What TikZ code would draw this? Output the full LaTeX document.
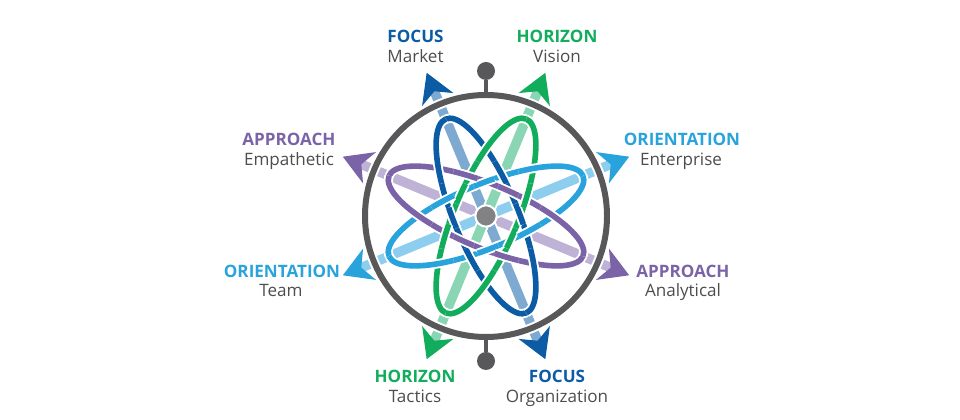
\documentclass[tikz,border=0pt]{standalone}
\usepackage{fontspec}
\setmainfont{Open Sans}
\usetikzlibrary{calc}
\definecolor{fdark}{HTML}{0B5CA5}
\definecolor{flight}{HTML}{7EAAD1}
\definecolor{hdark}{HTML}{12AD5C}
\definecolor{hlight}{HTML}{8AD5B3}
\definecolor{odark}{HTML}{29A3DC}
\definecolor{olight}{HTML}{8DCDEE}
\definecolor{adark}{HTML}{7B63A8}
\definecolor{alight}{HTML}{BEB2D6}
\definecolor{ringcol}{HTML}{58585A}
\definecolor{hubcol}{HTML}{828285}
\definecolor{subtxt}{HTML}{4D4D4F}
\begin{document}
\begin{tikzpicture}[x=0.75pt,y=0.75pt,
  lab/.style={anchor=base, inner sep=0pt, text=subtxt, font=\fontsize{12.8}{15}\selectfont},
  ttl/.style={anchor=base, inner sep=0pt, font=\fontsize{12.8}{15}\selectfont\bfseries},
  knob/.style={circle, fill=ringcol, inner sep=0pt, minimum size=13.5pt},
  stem/.style={ringcol, line width=2.4pt},
  casing/.style={white, line width=7pt},
  orbit/.style={line width=4.2pt},
]
\useasboundingbox (0,0) rectangle (960,420);
\coordinate (C) at (486,204);

% light shafts
\foreach \ang/\col in {157.5/alight, 22.5/olight, 112.5/flight, 67.5/hlight}{
  \begin{scope}[shift={(C)}, rotate=\ang]
    \draw[white, line width=10pt] (-142,0) -- (142,0);
    \draw[\col, line width=7.2pt] (-142,0) -- (142,0);
  \end{scope}
}

% orbits: under segments first
\foreach \ang/\col in {112.5/fdark, 67.5/hdark, 22.5/odark, 157.5/adark}{
  \foreach \ta/\tb in {61.9/79.4, 88.5/103.6, 115.1/181.5, 241.9/259.4, 268.5/283.6, 295.1/361.5}{
    \begin{scope}[shift={(C)}, rotate=\ang]
      \draw[casing] (\ta:105 and 32) arc[start angle=\ta, end angle=\tb, x radius=105, y radius=32];
      \draw[orbit, \col] (\ta:105 and 32) arc[start angle=\ta, end angle=\tb, x radius=105, y radius=32];
    \end{scope}
  }
}
% orbits: over segments
\foreach \ang/\col in {112.5/fdark, 67.5/hdark, 22.5/odark, 157.5/adark}{
  \foreach \ta/\tb in {0/63.36, 77.93/90, 102.07/116.64, 180/243.36, 257.93/270, 282.07/296.64}{
    \begin{scope}[shift={(C)}, rotate=\ang]
      \draw[casing] (\ta:105 and 32) arc[start angle=\ta, end angle=\tb, x radius=105, y radius=32];
      \draw[orbit, \col] (\ta:105 and 32) arc[start angle=\ta, end angle=\tb, x radius=105, y radius=32];
    \end{scope}
  }
}

% hub
\node[circle, fill=hubcol, draw=white, line width=1.5pt, inner sep=0pt, minimum size=16pt] (hub) at (C) {};

% ring
\draw[white, line width=7.5pt] (C) circle (121);
\draw[ringcol, line width=4.5pt] (C) circle (121);

% knobs
\coordinate (rtop) at (486,325);
\coordinate (rbot) at (486,83);
\node[knob] (ktop) at (486,349) {};
\node[knob] (kbot) at (486,59) {};
\draw[stem] (rtop) -- (ktop);
\draw[stem] (rbot) -- (kbot);

% arrowheads
\foreach \ang/\col in {112.5/fdark, 292.5/fdark, 67.5/hdark, 247.5/hdark, 22.5/odark, 202.5/odark, 157.5/adark, 337.5/adark}{
  \begin{scope}[shift={(C)}, rotate=\ang]
    \fill[\col] (155,0) -- (126,17) -- (135,0) -- (126,-17) -- cycle;
  \end{scope}
}

% labels
\node[ttl, text=fdark] (fmT) at (415.5,377) {FOCUS};
\node[lab] (fmS) at (415.5,357) {Market};
\node[ttl, text=hdark] (hvT) at (557,377) {HORIZON};
\node[lab] (hvS) at (557,357) {Vision};
\node[ttl, text=adark] (aeT) at (289,274) {APPROACH};
\node[lab] (aeS) at (289,254.5) {Empathetic};
\node[ttl, text=odark] (oeT) at (682,274) {ORIENTATION};
\node[lab] (oeS) at (681,254.5) {Enterprise};
\node[ttl, text=odark] (otT) at (282,142) {ORIENTATION};
\node[lab] (otS) at (281,123) {Team};
\node[ttl, text=adark] (aaT) at (683,142) {APPROACH};
\node[lab] (aaS) at (683,123) {Analytical};
\node[ttl, text=hdark] (htT) at (415,37) {HORIZON};
\node[lab] (htS) at (415,17) {Tactics};
\node[ttl, text=fdark] (foT) at (557,37) {FOCUS};
\node[lab] (foS) at (557,17) {Organization};
\end{tikzpicture}
\end{document}
